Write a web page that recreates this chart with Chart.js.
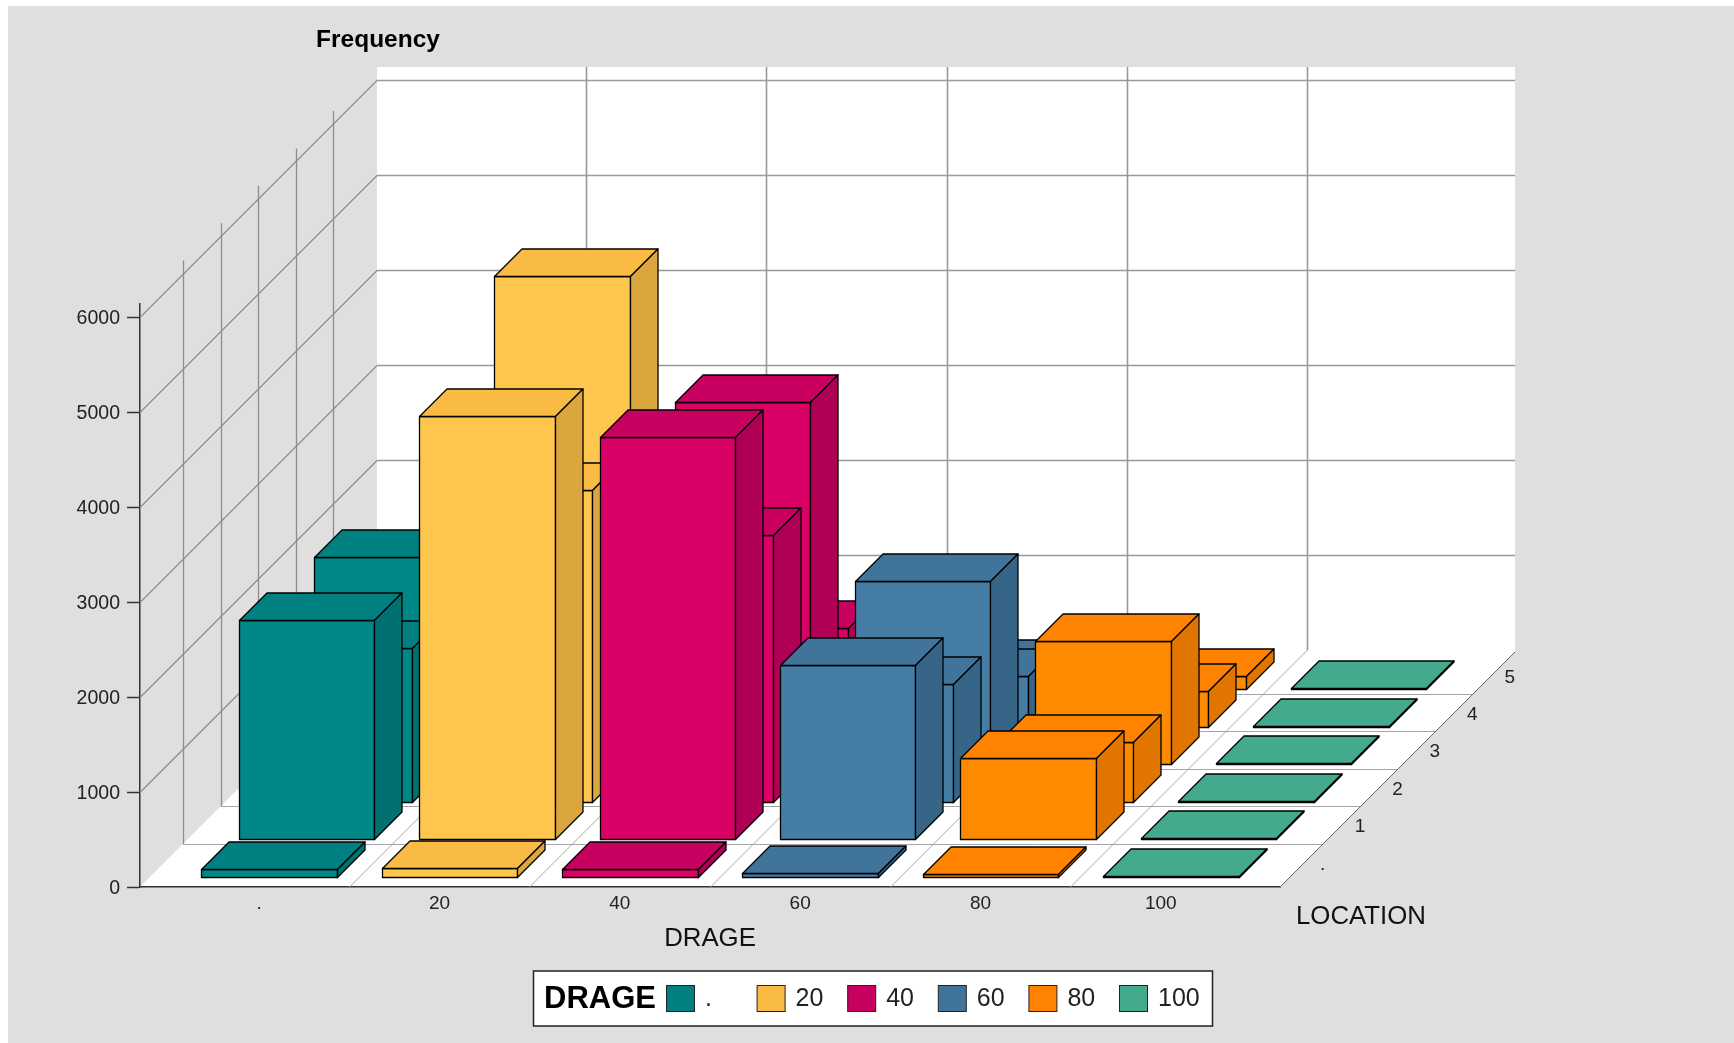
<!DOCTYPE html>
<html>
<head>
<meta charset="utf-8">
<title>Frequency by DRAGE and LOCATION</title>
<style>
  html, body { margin: 0; padding: 0; background: #fff; }
  canvas { display: block; }
</style>
<script src="https://cdn.jsdelivr.net/npm/chart.js@4/dist/chart.umd.js"></script>
</head>
<body>
<canvas id="chart-frequency" width="1734" height="1043"></canvas>
<script>
const drageLabels = ['.', '20', '40', '60', '80', '100'];
const locationLabels = ['.', '1', '2', '3', '4', '5'];
const frequencyTicks = [0, 1000, 2000, 3000, 4000, 5000, 6000];

// frequency per DRAGE, one list per LOCATION
const locationDotValues = [88, 100, 88, 42, 30, 12];
const location1Values = [2306, 4460, 4234, 1835, 861, 12];
const location2Values = [1618, 3281, 2807, 1242, 635, 12];
const location3Values = [2180, 5142, 3812, 1932, 1300, 20];
const location4Values = [1000, 1500, 1039, 537, 382, 12];
const location5Values = [300, 600, 250, 240, 142, 12];

const frontColors = ['#008888', '#ffc64d', '#d90066', '#467da5', '#ff8a00', '#43aa8e'];
const topColors = ['#008080', '#fabb45', '#c80060', '#41749b', '#ff8300', '#43aa8e'];
const sideColors = ['#007070', '#dca63e', '#b00055', '#376587', '#e07500', '#3a9379'];

const FONT = '"Liberation Sans", Arial, sans-serif';
const WALL_DEPTH = 237;   // oblique shift of the back wall, px right and up
const ROW_START = 10;     // first row of bars, px in from the front edge
const ROW_STEP = 37.5;    // px between rows of bars
const BAR_DEPTH = 27.5;
const FLOOR_LINES = [43.4, 80.8, 118.2, 155.6, 193];

// Bars with a side and a top face, pushed back by the dataset's row
class Bar3dController extends Chart.BarController {
    draw() {
        const ctx = this.chart.ctx;
        const shift = ROW_START + ROW_STEP * this.index;
        ctx.save();
        ctx.lineWidth = 1.3;
        ctx.strokeStyle = '#000';
        ctx.lineJoin = 'round';
        this.getMeta().data.forEach(function (bar, i) {
            const left = Math.round(bar.x - bar.width / 2 + shift) + 0.5;
            const right = Math.round(bar.x + bar.width / 2 + shift) + 0.5;
            const top = Math.round(bar.y - shift) + 0.5;
            const bottom = Math.round(bar.base - shift) + 0.5;
            face(ctx, frontColors[i], [[left, top], [right, top], [right, bottom], [left, bottom]]);
            face(ctx, topColors[i], [[left, top], [left + BAR_DEPTH, top - BAR_DEPTH], [right + BAR_DEPTH, top - BAR_DEPTH], [right, top]]);
            face(ctx, sideColors[i], [[right, top], [right + BAR_DEPTH, top - BAR_DEPTH], [right + BAR_DEPTH, bottom - BAR_DEPTH], [right, bottom]]);
        });
        ctx.restore();
    }
}
Bar3dController.id = 'bar3d';
Bar3dController.defaults = {};
Chart.register(Bar3dController);

function face(ctx, color, points) {
    ctx.beginPath();
    points.forEach(function (p, i) {
        if (i === 0) ctx.moveTo(p[0], p[1]);
        else ctx.lineTo(p[0], p[1]);
    });
    ctx.closePath();
    ctx.fillStyle = color;
    ctx.fill();
    ctx.stroke();
}

function line(ctx, x1, y1, x2, y2) {
    ctx.beginPath();
    ctx.moveTo(x1, y1);
    ctx.lineTo(x2, y2);
    ctx.stroke();
}

function label(ctx, text, x, y, font, color, align) {
    ctx.font = font;
    ctx.fillStyle = color;
    ctx.textAlign = align || 'center';
    ctx.textBaseline = 'middle';
    ctx.fillText(text, x, y);
}

// Page background, white back wall and floor
const backdrop = {
    id: 'backdrop',
    beforeDraw(chart) {
        const ctx = chart.ctx;
        const area = chart.chartArea;
        const y0 = chart.scales.y.getPixelForValue(0);
        ctx.save();
        ctx.fillStyle = '#fff';
        ctx.fillRect(0, 0, chart.width, chart.height);
        ctx.fillStyle = '#dfdfdf';
        ctx.fillRect(8, 6, chart.width - 8, chart.height - 6);
        ctx.fillStyle = '#fff';
        ctx.beginPath();
        ctx.moveTo(area.left + WALL_DEPTH, area.top - WALL_DEPTH);
        ctx.lineTo(area.right + WALL_DEPTH - 2, area.top - WALL_DEPTH);
        ctx.lineTo(area.right + WALL_DEPTH - 2, y0 - WALL_DEPTH + 2);
        ctx.lineTo(area.right, y0);
        ctx.lineTo(area.left, y0);
        ctx.lineTo(area.left + WALL_DEPTH, y0 - WALL_DEPTH);
        ctx.closePath();
        ctx.fill();
        ctx.restore();
    }
};

// Grid on the side wall, back wall and floor, taken from the axis scales
const walls = {
    id: 'walls',
    beforeDatasetsDraw(chart) {
        const ctx = chart.ctx;
        const area = chart.chartArea;
        const x = chart.scales.x;
        const y = chart.scales.y;
        const y0 = y.getPixelForValue(0);
        const backRight = area.right + WALL_DEPTH - 2;
        ctx.save();
        ctx.strokeStyle = '#8e8e8e';
        ctx.lineWidth = 1.3;
        y.ticks.forEach(function (tick) {
            if (tick.value === 0) return;
            const py = Math.round(y.getPixelForValue(tick.value)) + 0.5;
            line(ctx, area.left, py, area.left + WALL_DEPTH, py - WALL_DEPTH);
        });
        FLOOR_LINES.forEach(function (d) {
            const px = Math.round(area.left + d) + 0.5;
            line(ctx, px, area.top - d, px, Math.round(y0 - d) + 0.5);
        });

        ctx.strokeStyle = '#999';
        ctx.lineWidth = 1.6;
        y.ticks.forEach(function (tick) {
            if (tick.value === 0) return;
            const py = Math.round(y.getPixelForValue(tick.value)) + 0.5 - WALL_DEPTH;
            line(ctx, area.left + WALL_DEPTH, py, backRight, py);
        });
        drageLabels.slice(1).forEach(function (name, i) {
            const px = Math.floor(x.getPixelForValue(i + 0.5)) + 0.5 + WALL_DEPTH;
            line(ctx, px, y0 - WALL_DEPTH, px, area.top - WALL_DEPTH);
        });

        ctx.strokeStyle = '#a6a6a6';
        ctx.lineWidth = 1;
        FLOOR_LINES.forEach(function (d) {
            const py = Math.round(y0 - d) + 0.5;
            line(ctx, Math.round(area.left + d) + 0.5, py, area.right + d, py);
        });
        drageLabels.slice(1).forEach(function (name, i) {
            const px = Math.floor(x.getPixelForValue(i + 0.5)) + 0.5;
            line(ctx, px, y0, px + WALL_DEPTH, y0 - WALL_DEPTH);
        });

        ctx.strokeStyle = '#666';
        line(ctx, area.right, y0, backRight, y0 - WALL_DEPTH + 2);
        ctx.restore();
    }
};

// Axis names, LOCATION tick labels and the DRAGE legend
const annotations = {
    id: 'annotations',
    afterDraw(chart) {
        const ctx = chart.ctx;
        const area = chart.chartArea;
        const y0 = chart.scales.y.getPixelForValue(0);
        ctx.save();
        label(ctx, 'Frequency', 378, 40, 'bold 24.5px ' + FONT, '#000');
        label(ctx, 'LOCATION', 1361, 917, '25.8px ' + FONT, '#111');
        locationLabels.forEach(function (name, i) {
            const d = 24.7 + 37.4 * i;
            label(ctx, name, area.right + d + 18, y0 - d + 2, '19px ' + FONT, '#222');
        });

        ctx.fillStyle = '#fff';
        ctx.strokeStyle = '#222';
        ctx.lineWidth = 1.5;
        ctx.fillRect(533.5, 971, 679, 55);
        ctx.strokeRect(533.5, 971, 679, 55);
        label(ctx, 'DRAGE', 544, 999, 'bold 31px ' + FONT, '#000', 'left');
        ctx.lineWidth = 1;
        drageLabels.forEach(function (name, i) {
            const sx = 666 + i * 90.6;
            ctx.fillStyle = topColors[i];
            ctx.fillRect(sx + 0.5, 985.5, 28, 26);
            ctx.strokeRect(sx + 0.5, 985.5, 28, 26);
            label(ctx, name, sx + 39, 999, '25px ' + FONT, '#222', 'left');
        });
        ctx.restore();
    }
};

const rows = [locationDotValues, location1Values, location2Values, location3Values, location4Values, location5Values];

new Chart(document.getElementById('chart-frequency'), {
    type: 'bar3d',
    data: {
        datasets: rows.map(function (values, r) {
            return {
                label: locationLabels[r],
                data: values.map(function (v, i) { return { x: i, y: v }; }),
                grouped: false,
                barThickness: 135.5,
                clip: false
            };
        })
    },
    options: {
        responsive: false,
        animation: false,
        events: [],
        layout: { padding: { left: 0, top: 304, right: 454, bottom: 86 } },
        plugins: { legend: { display: false }, tooltip: { enabled: false } },
        scales: {
            x: {
                type: 'linear',
                offset: false,
                min: -0.661,
                max: 5.661,
                afterBuildTicks: function (scale) {
                    scale.ticks = drageLabels.map(function (name, i) { return { value: i }; });
                },
                afterFit: function (scale) { scale.height = 70; },
                grid: { drawOnChartArea: false, drawTicks: false },
                border: { color: '#333', width: 1.5 },
                ticks: {
                    maxRotation: 0,
                    autoSkip: false,
                    padding: 5,
                    color: '#222',
                    font: { family: FONT, size: 19 },
                    callback: function (value) { return drageLabels[value]; }
                },
                title: {
                    display: true,
                    text: 'DRAGE',
                    color: '#111',
                    padding: { top: 4, bottom: 3 },
                    font: { family: FONT, size: 25.8 }
                }
            },
            y: {
                type: 'linear',
                min: 0,
                max: 6137,
                afterBuildTicks: function (scale) {
                    scale.ticks = frequencyTicks.map(function (v) { return { value: v }; });
                },
                afterFit: function (scale) { scale.width = 140; },
                grid: { drawOnChartArea: false, tickLength: 13, tickColor: '#333', tickWidth: 1.5 },
                border: { color: '#333', width: 1.5 },
                ticks: {
                    padding: 7,
                    labelOffset: 1.5,
                    color: '#222',
                    font: { family: FONT, size: 19.5 },
                    callback: function (value) { return String(value); }
                }
            }
        }
    },
    plugins: [backdrop, walls, annotations]
});
</script>
</body>
</html>
